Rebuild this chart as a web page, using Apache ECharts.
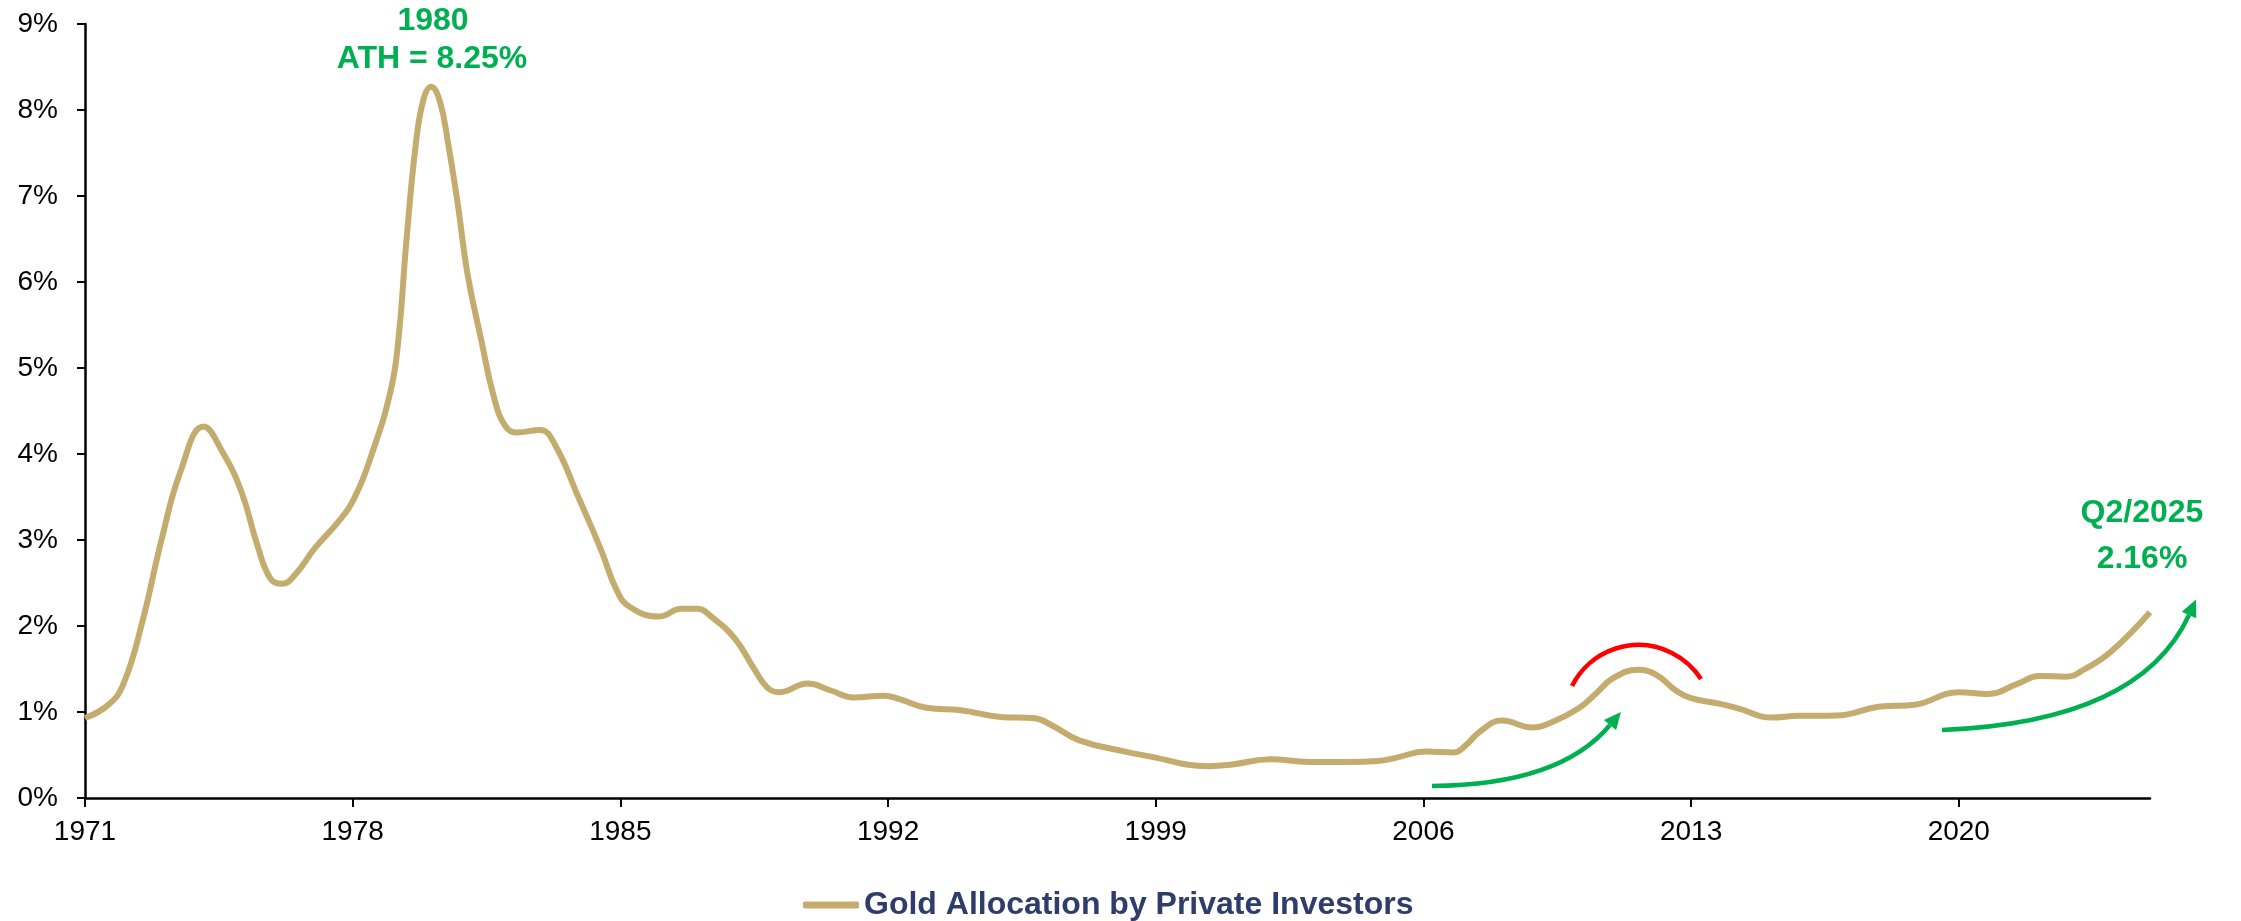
<!DOCTYPE html>
<html>
<head>
<meta charset="utf-8">
<title>Gold Allocation by Private Investors</title>
<script src="https://cdn.jsdelivr.net/npm/echarts@6/dist/echarts.min.js"></script>
<style>
  html, body { margin: 0; padding: 0; background: #fff; }
  #chart { width: 2241px; height: 921px; }
</style>
</head>
<body>
<div id="chart"></div>
<script>
  // data (year, % of private portfolios in gold)
  var years = [
    1971.0, 1971.6, 1972.0, 1972.5, 1973.0, 1973.5, 1974.1, 1974.6, 1975.1, 1975.5,
    1975.85, 1976.15, 1976.5, 1977.0, 1977.6, 1978.0, 1978.5, 1979.0, 1979.2, 1979.4,
    1979.65, 1979.85, 1980.05, 1980.28, 1980.5, 1980.75, 1981.0, 1981.35, 1981.7, 1982.0,
    1982.3, 1982.9, 1983.3, 1983.9, 1984.5, 1984.9, 1985.25, 1986.0, 1986.6, 1987.0,
    1987.4, 1988.0, 1988.5, 1988.85, 1989.15, 1989.9, 1990.5, 1991.1, 1991.9, 1992.3,
    1993.0, 1993.9, 1995.0, 1995.8, 1996.3, 1997.0, 1998.2, 1999.0, 1999.8, 2000.4,
    2001.0, 2002.0, 2003.0, 2004.0, 2004.8, 2005.3, 2006.05, 2006.8, 2007.1, 2007.5,
    2008.05, 2008.85, 2009.4, 2010.05, 2010.5, 2010.95, 2011.6, 2012.1, 2012.6, 2013.0,
    2013.7, 2014.25, 2015.1, 2015.8, 2016.8, 2017.9, 2018.85, 2020.0, 2020.75, 2021.55,
    2022.1, 2022.8, 2023.3, 2024.0, 2025.0
  ];
  var allocation = [
    0.93, 1.08, 1.32, 2.05, 3.0, 3.8, 4.32, 4.02, 3.55, 2.95,
    2.55, 2.49, 2.6, 2.9, 3.2, 3.45, 4.0, 4.75, 5.35, 6.45,
    7.6, 8.12, 8.27, 8.1, 7.6, 6.9, 6.1, 5.35, 4.65, 4.32,
    4.25, 4.28, 4.1, 3.5, 2.88, 2.42, 2.22, 2.11, 2.2, 2.2,
    2.1, 1.85, 1.5, 1.28, 1.23, 1.33, 1.25, 1.17, 1.19, 1.15,
    1.05, 1.02, 0.94, 0.93, 0.84, 0.67, 0.54, 0.47, 0.39, 0.37,
    0.39, 0.45, 0.42, 0.42, 0.43, 0.47, 0.54, 0.53, 0.61, 0.78,
    0.90, 0.82, 0.89, 1.04, 1.21, 1.39, 1.49, 1.43, 1.25, 1.16,
    1.10, 1.04, 0.935, 0.955, 0.96, 1.06, 1.085, 1.23, 1.21, 1.33,
    1.42, 1.41, 1.5, 1.71, 2.16
  ];
  var xTicks = [1971, 1978, 1985, 1992, 1999, 2006, 2013, 2020];
  var seriesName = 'Gold Allocation by Private Investors';

  var GOLD = '#C4AB6E', GREEN = '#00B050', RED = '#FF0000', NAVY = '#2E3D6B';
  var FONT = '"Liberation Sans", Arial, sans-serif';

  // curved arrow: quadratic shaft p0 -> b (control c), head continues to the tip
  function arrow(p0, c, b, len, half) {
    var dx = b[0] - c[0], dy = b[1] - c[1];
    var n = Math.sqrt(dx * dx + dy * dy);
    dx /= n; dy /= n;
    var tip = [b[0] + dx * len, b[1] + dy * len];
    return [
      { type: 'bezierCurve', shape: { x1: p0[0], y1: p0[1], cpx1: c[0], cpy1: c[1], x2: b[0], y2: b[1] },
        style: { stroke: GREEN, lineWidth: 4.5, fill: null } },
      { type: 'polygon', shape: { points: [tip, [b[0] - dy * half, b[1] + dx * half], [b[0] + dy * half, b[1] - dx * half]] },
        style: { fill: GREEN } }
    ];
  }

  // circular arc through three points
  function arcThrough(a, b, c) {
    var a2 = a[0] * a[0] + a[1] * a[1], b2 = b[0] * b[0] + b[1] * b[1], c2 = c[0] * c[0] + c[1] * c[1];
    var d = 2 * (a[0] * (b[1] - c[1]) + b[0] * (c[1] - a[1]) + c[0] * (a[1] - b[1]));
    var ux = (a2 * (b[1] - c[1]) + b2 * (c[1] - a[1]) + c2 * (a[1] - b[1])) / d;
    var uy = (a2 * (c[0] - b[0]) + b2 * (a[0] - c[0]) + c2 * (b[0] - a[0])) / d;
    var r = Math.sqrt((a[0] - ux) * (a[0] - ux) + (a[1] - uy) * (a[1] - uy));
    return {
      type: 'arc',
      shape: { cx: ux, cy: uy, r: r,
        startAngle: Math.atan2(a[1] - uy, a[0] - ux),
        endAngle: Math.atan2(c[1] - uy, c[0] - ux), clockwise: true },
      style: { stroke: RED, lineWidth: 4.5, fill: null }
    };
  }

  function label(text, x, y) {
    return {
      type: 'text', x: x, y: y,
      style: { text: text, font: 'bold 32px ' + FONT, fill: GREEN,
        textAlign: 'center', textVerticalAlign: 'middle', align: 'center', verticalAlign: 'middle' }
    };
  }

  var myChart = echarts.init(document.getElementById('chart'));
  var option = {
    animation: false,
    backgroundColor: '#fff',
    textStyle: { fontFamily: FONT },
    grid: { left: 85, right: 91, top: 24, bottom: 123, outerBoundsMode: 'none' },
    legend: {
      top: 884,
      left: 798,
      icon: 'roundRect',
      itemWidth: 56,
      itemHeight: 7,
      textStyle: { fontFamily: FONT, fontSize: 32, fontWeight: 'bold', color: NAVY },
      data: [seriesName]
    },
    xAxis: {
      type: 'value',
      min: 1971,
      max: 2025,
      interval: 7,
      axisLine: { show: true, lineStyle: { color: '#000', width: 2.5 } },
      axisTick: { show: true, length: 9, lineStyle: { color: '#000', width: 2 }, customValues: xTicks },
      axisLabel: { fontSize: 28, color: '#000', margin: 20, fontFamily: FONT, customValues: xTicks,
        formatter: function (v) { return String(v); } },
      splitLine: { show: false }
    },
    yAxis: {
      type: 'value',
      min: 0,
      max: 9,
      interval: 1,
      axisLine: { show: true, lineStyle: { color: '#000', width: 2.5 } },
      axisTick: { show: true, length: 8, lineStyle: { color: '#000', width: 2 } },
      axisLabel: { fontSize: 28, color: '#000', margin: 27, fontFamily: FONT, formatter: '{value}%' },
      splitLine: { show: false }
    },
    series: [{
      name: seriesName,
      type: 'line',
      data: years.map(function (y, i) { return [y, allocation[i]]; }),
      smooth: 0.45,
      symbol: 'none',
      showSymbol: false,
      color: GOLD,
      lineStyle: { color: GOLD, width: 6 },
      itemStyle: { color: GOLD }
    }],
    graphic: {
      elements: [
        label('1980', 433, 21),
        label('ATH = 8.25%', 432, 59),
        label('Q2/2025', 2142, 513),
        label('2.16%', 2142, 559),
        arcThrough([1572, 686], [1637, 645], [1701, 679])
      ]
      .concat(arrow([1432, 786], [1560, 785], [1610, 725], 17, 8))
      .concat(arrow([1942, 730], [2140, 722], [2189, 615], 17, 8))
    }
  };
  myChart.setOption(option);
</script>
</body>
</html>
